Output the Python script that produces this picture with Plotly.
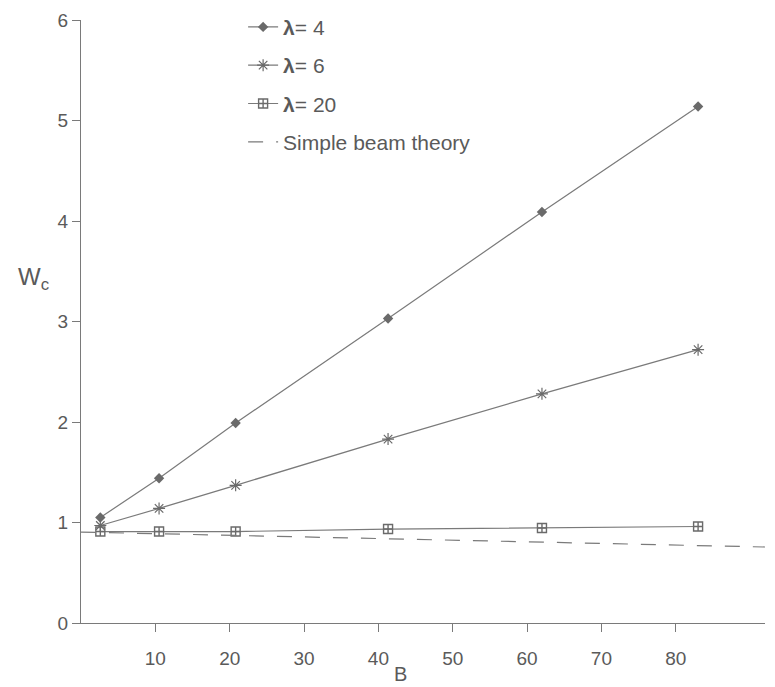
import plotly.graph_objects as go

# ---- data ----
B = [2.6, 10.5, 20.8, 41.3, 62, 83]
w_lam4 = [1.05, 1.44, 1.99, 3.03, 4.09, 5.14]
w_lam6 = [0.97, 1.14, 1.37, 1.83, 2.28, 2.72]
w_lam20 = [0.91, 0.91, 0.91, 0.935, 0.945, 0.96]
B_beam = [0, 20, 40, 60, 80, 92]
w_beam = [0.905, 0.873, 0.84, 0.808, 0.776, 0.756]

x_ticks = [10, 20, 30, 40, 50, 60, 70, 80]
y_ticks = [0, 1, 2, 3, 4, 5, 6]

names = ["<b>λ</b>= 4", "<b>λ</b>= 6", "<b>λ</b>= 20", "Simple beam theory"]

LINE = "#7a7a7a"
TEXT = "#5a5a5a"
FONT = "Liberation Sans, Arial, sans-serif"

fig = go.Figure()
fig.add_trace(go.Scatter(
    x=B, y=w_lam4, name=names[0], mode="lines+markers", legendgroup="a",
    line=dict(color=LINE, width=1.2),
    marker=dict(symbol="diamond", size=8, color="#6a6a6a")))
fig.add_trace(go.Scatter(
    x=B, y=w_lam6, name=names[1], mode="lines+markers", legendgroup="b",
    line=dict(color=LINE, width=1.2),
    marker=dict(symbol="asterisk-open", size=10, color="#6a6a6a",
                line=dict(color="#6a6a6a", width=1.2))))
fig.add_trace(go.Scatter(
    x=B, y=w_lam20, name=names[2], mode="lines+markers", legendgroup="c",
    line=dict(color=LINE, width=1.2),
    marker=dict(symbol="square-cross-open", size=9, color="#6a6a6a",
                line=dict(color="#6a6a6a", width=1.4))))
fig.add_trace(go.Scatter(
    x=B_beam, y=w_beam, name=names[3], mode="lines", legendgroup="d",
    line=dict(color=LINE, width=1.2, dash="15px,13px")))

fig.update_layout(
    width=767, height=679,
    margin=dict(l=73, r=10, t=12, b=64, autoexpand=False),
    paper_bgcolor="white", plot_bgcolor="white",
    font=dict(family=FONT, color=TEXT, size=19),
    showlegend=True,
    legend=dict(x=0.237, y=1.022, xanchor="left", yanchor="top",
                bgcolor="rgba(0,0,0,0)", tracegroupgap=8,
                font=dict(size=21, color=TEXT, family=FONT)),
    xaxis=dict(range=[0, 92], tickvals=x_ticks, showgrid=False, zeroline=False,
               showline=True, linecolor=LINE, linewidth=1.2,
               ticks="outside", ticklen=8, tickcolor=LINE,
               ticklabelstandoff=10, automargin=False,
               tickfont=dict(size=19, color=TEXT)),
    yaxis=dict(range=[0, 6], tickvals=y_ticks, showgrid=False, zeroline=False,
               showline=True, linecolor=LINE, linewidth=1.2,
               ticks="outside", ticklen=8, tickcolor=LINE, automargin=False,
               tickfont=dict(size=19, color=TEXT)),
)

fig.add_annotation(text="B", xref="x", yref="paper", x=43, y=0,
                   yanchor="middle", yshift=-51, showarrow=False,
                   font=dict(size=20, color=TEXT, family=FONT))
fig.add_annotation(text="W<sub>c</sub>", xref="paper", yref="paper",
                   x=-0.095, y=0.572, xanchor="left", yanchor="middle",
                   showarrow=False, font=dict(size=24, color=TEXT, family=FONT))

fig.write_html("out.html")
